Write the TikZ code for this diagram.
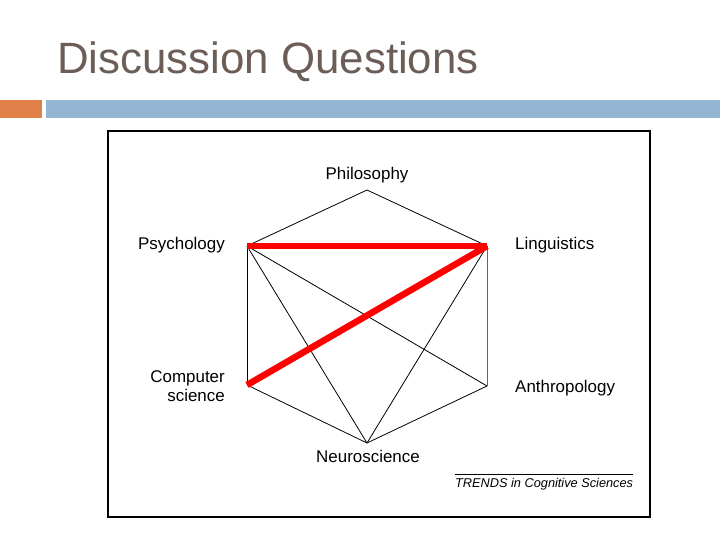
\documentclass[tikz,border=0pt]{standalone}
\usepackage{fontspec}
\setmainfont{Liberation Sans}
\usetikzlibrary{positioning}
\definecolor{titlegray}{RGB}{108,94,86}
\definecolor{barorange}{RGB}{224,128,72}
\definecolor{barblue}{RGB}{148,182,210}
\tikzset{
	slidetitle/.style = {anchor=base west, inner sep=0pt, text=titlegray, font=\fontsize{44}{48}\selectfont},
	lbl/.style = {inner sep=0pt, font=\fontsize{17}{20}\selectfont},
	srcnote/.style = {anchor=base west, inner sep=0pt, font=\fontsize{12.8}{15}\selectfont\itshape},
	frame/.style = {draw=black, line width=1.2bp},
	link/.style = {draw=black, line width=0.8bp},
	redlink/.style = {draw=red, line width=6.5bp}
}

\begin{document}
\begin{tikzpicture}[x=1bp, y=-1bp]
	\useasboundingbox (0,0) rectangle (720,540);

	%% slide head
	\node (head) [slidetitle] at (57,74) {Discussion Questions};
	\fill [barorange] (0,100) rectangle (42,118);
	\fill [barblue] (46,100) rectangle (720,118);

	%% figure frame
	\draw [frame] (108,131) rectangle (650,517);

	% vertices
	\coordinate (vphil) at (367,190);
	\coordinate (vpsy) at (247,246);
	\coordinate (vling) at (487,246);
	\coordinate (vcs) at (247,385);
	\coordinate (vanth) at (487,386);
	\coordinate (vneuro) at (367,443);

	% labels
	\node (phil) [lbl, anchor=base] at (367,180) {Philosophy};
	\node (psy) [lbl, anchor=base east] at (225,250) {Psychology};
	\node (ling) [lbl, anchor=base west] at (515,250) {Linguistics};
	\node (cs) [lbl, anchor=north east, align=right] at (225,370) {Computer\\science};
	\node (anth) [lbl, anchor=base west] at (515,392) {Anthropology};
	\node (neuro) [lbl, anchor=base] at (368,462) {Neuroscience};

	%%% links %%%
	\draw [link] (vphil) -- (vpsy);
	\draw [link] (vphil) -- (vling);
	\draw [link] (vpsy) -- (vcs);
	\draw [link, black!60] (vling) -- (vanth);
	\draw [link] (vcs) -- (vneuro);
	\draw [link] (vanth) -- (vneuro);
	\draw [link] (vpsy) -- (vanth);
	\draw [link] (vpsy) -- (vneuro);
	\draw [link] (vling) -- (vneuro);
	\draw [redlink] (vpsy) -- (vling);
	\draw [redlink] (vcs) -- (vling);

	% source
	\draw [line width=0.6bp] (455,474) -- (633,474);
	\node (src) [srcnote] at (455,487) {TRENDS in Cognitive Sciences};
\end{tikzpicture}
\end{document}
